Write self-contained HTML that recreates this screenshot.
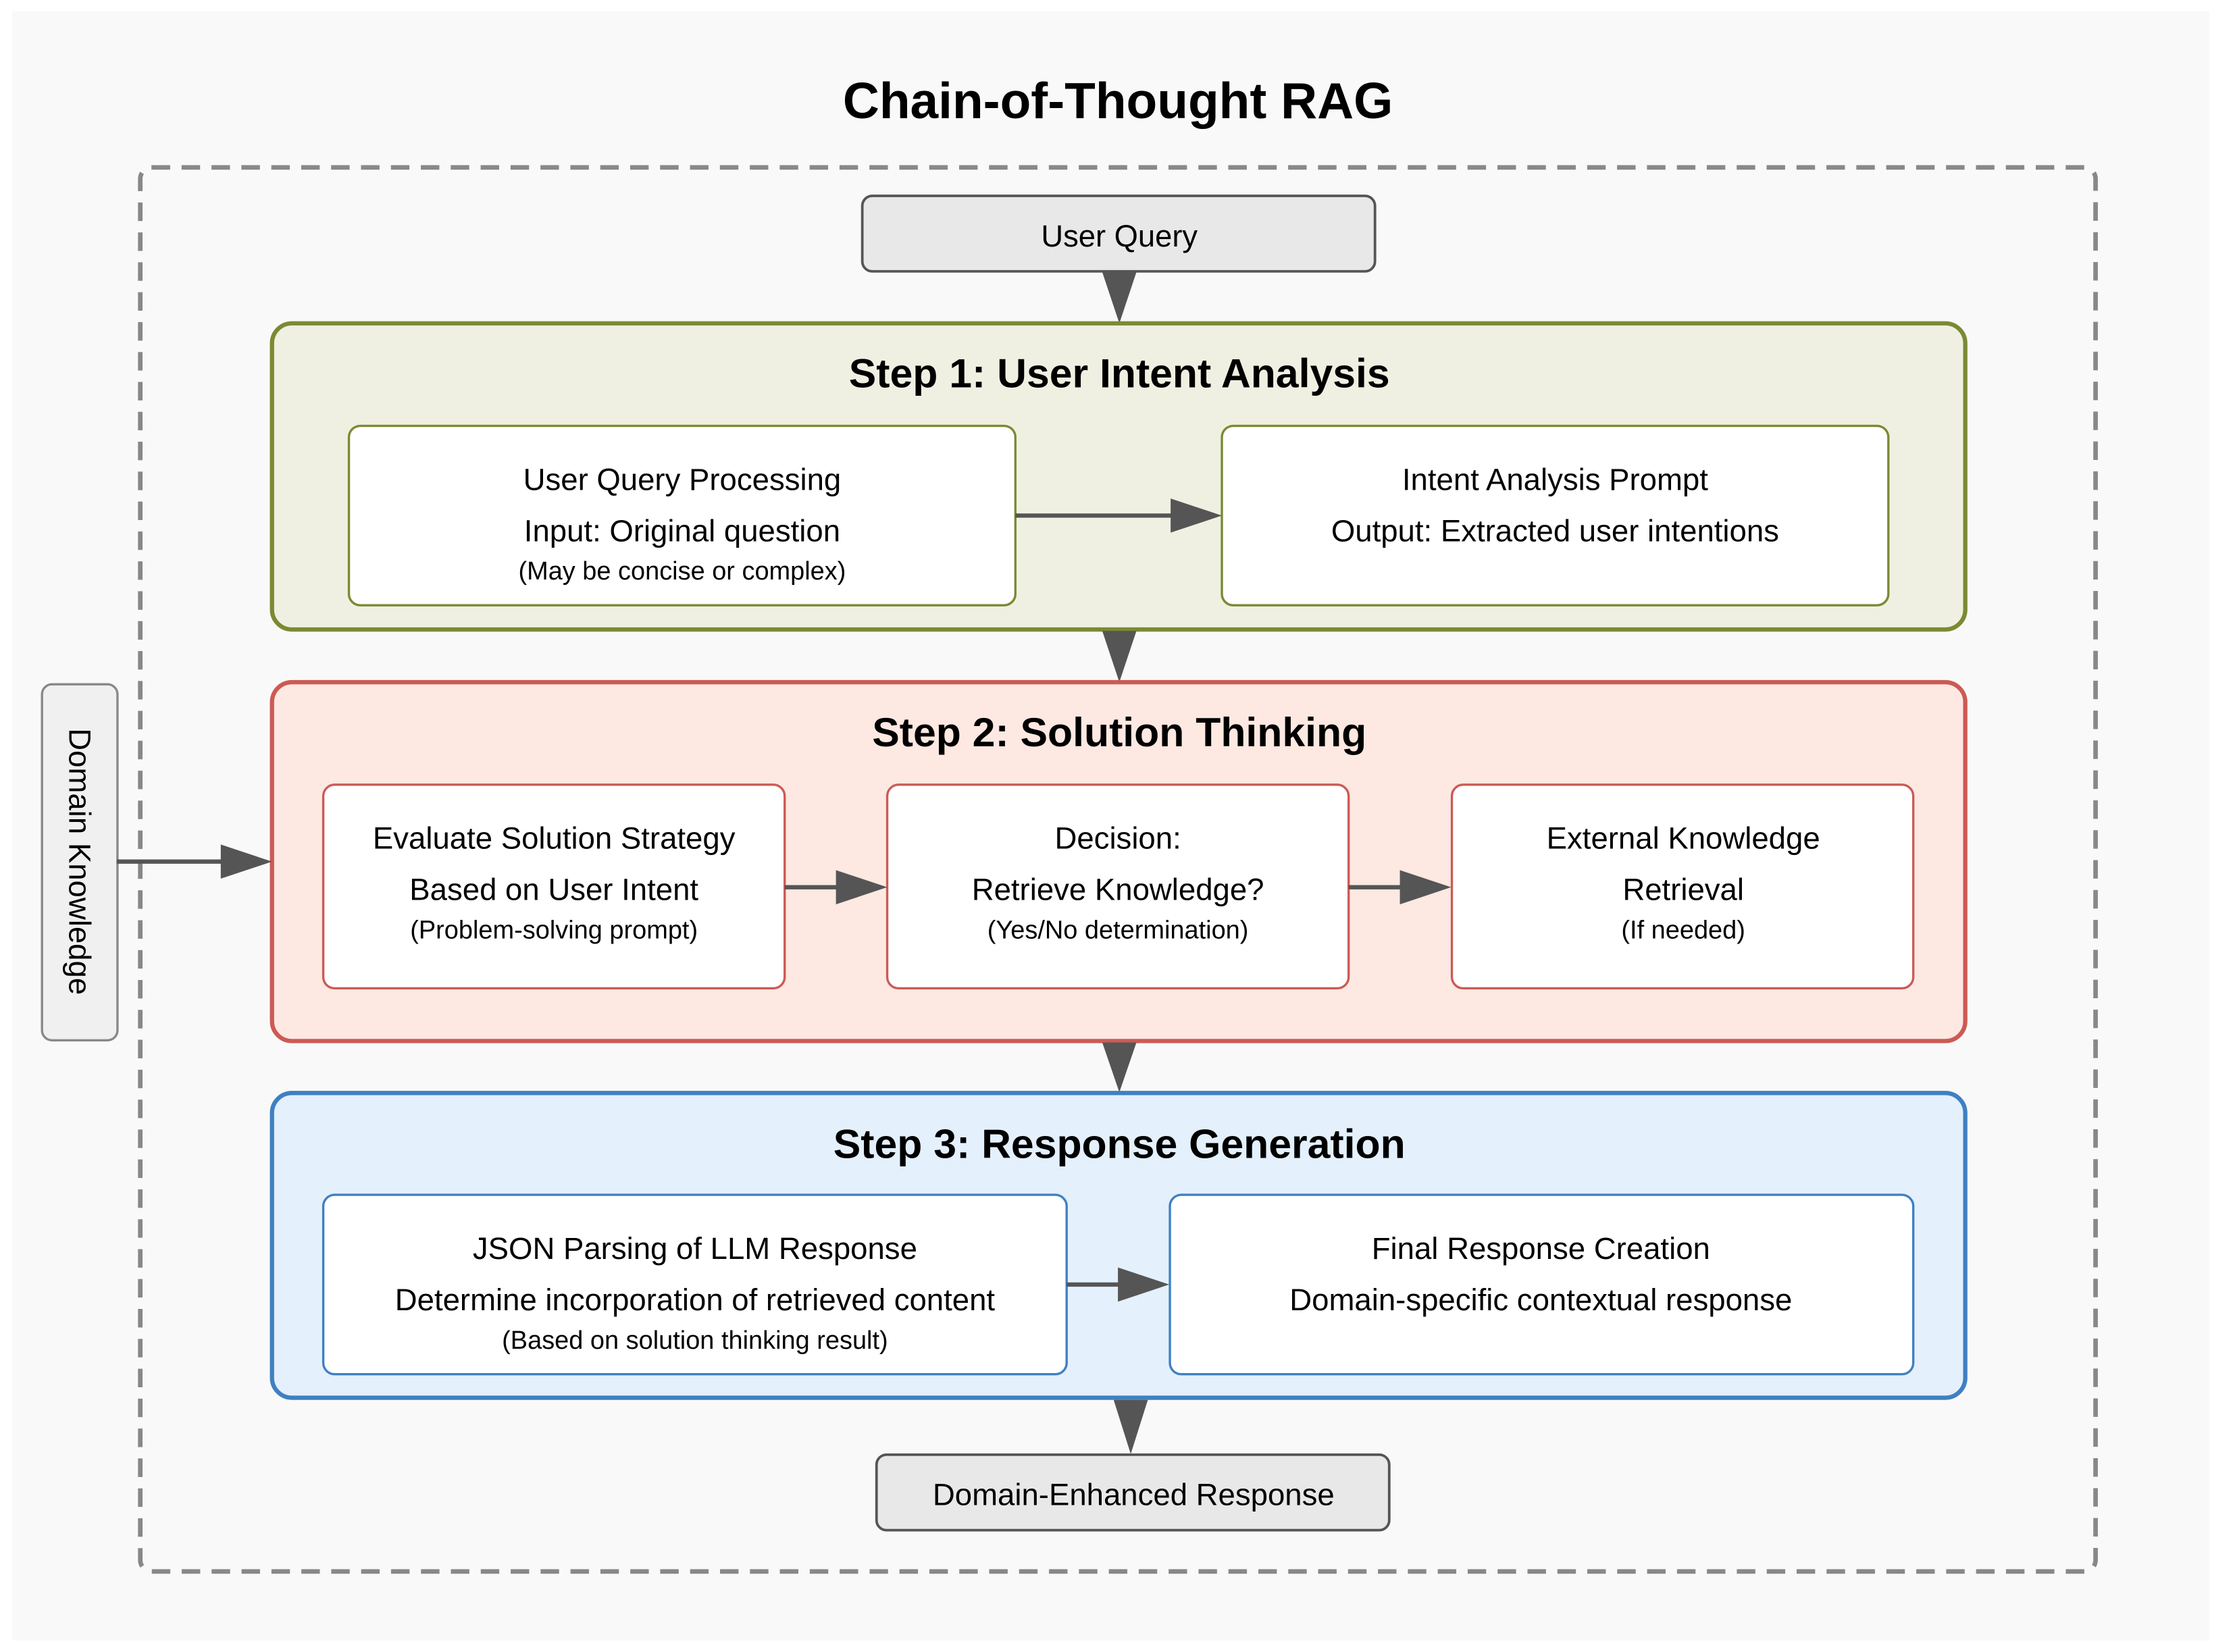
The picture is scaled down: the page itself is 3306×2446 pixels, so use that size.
<!DOCTYPE html>
<html><head><meta charset="utf-8"><style>html,body{margin:0;padding:0;background:#fff}svg{display:block}</style></head>
<body>
<svg width="3306" height="2446" viewBox="0 0 1568 1160" xmlns="http://www.w3.org/2000/svg" font-family="Liberation Sans, Arial, sans-serif">
<rect x="0" y="0" width="1568" height="1160" fill="#ffffff"/>
<rect x="8.5" y="8" width="1543" height="1144" fill="#f9f9f9"/>
<rect x="98.5" y="117.5" width="1373" height="986" rx="8" fill="none" stroke="#888" stroke-width="3.2" stroke-dasharray="13,8"/>
<text x="785" y="83" text-anchor="middle" font-size="35.5" font-weight="bold" fill="#000">Chain-of-Thought RAG</text>

<rect x="605.5" y="137.5" width="360" height="53" rx="7" fill="#e8e8e8" stroke="#555" stroke-width="1.8"/>
<text x="786" y="173" text-anchor="middle" font-size="21.5" fill="#000">User Query</text>
<polygon points="774,191 798,191 786,227" fill="#555"/>

<rect x="191" y="227" width="1189" height="215" rx="14" fill="#f0f0e2" stroke="#7b8a33" stroke-width="3"/>
<text x="786" y="272" text-anchor="middle" font-size="28.8" font-weight="bold" fill="#000">Step 1: User Intent Analysis</text>
<rect x="245" y="299" width="468" height="126" rx="8" fill="#fff" stroke="#7b8a33" stroke-width="1.6"/>
<text x="479" y="344" text-anchor="middle" font-size="21.6">User Query Processing</text>
<text x="479" y="380" text-anchor="middle" font-size="21.6">Input: Original question</text>
<text x="479" y="407" text-anchor="middle" font-size="18">(May be concise or complex)</text>
<rect x="858" y="299" width="468" height="126" rx="8" fill="#fff" stroke="#7b8a33" stroke-width="1.6"/>
<text x="1092" y="344" text-anchor="middle" font-size="21.6">Intent Analysis Prompt</text>
<text x="1092" y="380" text-anchor="middle" font-size="21.6">Output: Extracted user intentions</text>
<line x1="713" y1="362" x2="824" y2="362" stroke="#555" stroke-width="3"/>
<polygon points="822,350 858,362 822,374" fill="#555"/>
<polygon points="774,443 798,443 786,479" fill="#555"/>

<rect x="191" y="479" width="1189" height="252" rx="14" fill="#fde8e2" stroke="#cc5a55" stroke-width="3"/>
<text x="786" y="524" text-anchor="middle" font-size="28.8" font-weight="bold">Step 2: Solution Thinking</text>
<rect x="227" y="551" width="324" height="143" rx="8" fill="#fff" stroke="#cc5a55" stroke-width="1.6"/>
<text x="389" y="596" text-anchor="middle" font-size="21.6">Evaluate Solution Strategy</text>
<text x="389" y="632" text-anchor="middle" font-size="21.6">Based on User Intent</text>
<text x="389" y="659" text-anchor="middle" font-size="18">(Problem-solving prompt)</text>
<rect x="623" y="551" width="324" height="143" rx="8" fill="#fff" stroke="#cc5a55" stroke-width="1.6"/>
<text x="785" y="596" text-anchor="middle" font-size="21.6">Decision:</text>
<text x="785" y="632" text-anchor="middle" font-size="21.6">Retrieve Knowledge?</text>
<text x="785" y="659" text-anchor="middle" font-size="18">(Yes/No determination)</text>
<rect x="1019.5" y="551" width="324" height="143" rx="8" fill="#fff" stroke="#cc5a55" stroke-width="1.6"/>
<text x="1182" y="596" text-anchor="middle" font-size="21.6">External Knowledge</text>
<text x="1182" y="632" text-anchor="middle" font-size="21.6">Retrieval</text>
<text x="1182" y="659" text-anchor="middle" font-size="18">(If needed)</text>
<line x1="551" y1="623" x2="590" y2="623" stroke="#555" stroke-width="3"/>
<polygon points="587,611 623,623 587,635" fill="#555"/>
<line x1="947" y1="623" x2="986" y2="623" stroke="#555" stroke-width="3"/>
<polygon points="983,611 1019,623 983,635" fill="#555"/>

<rect x="29.5" y="480.5" width="53" height="250" rx="7" fill="#f0f0f0" stroke="#888" stroke-width="1.6"/>
<text x="0" y="0" transform="translate(56,605) rotate(90)" text-anchor="middle" dominant-baseline="central" font-size="21.6">Domain Knowledge</text>
<line x1="82" y1="605" x2="158" y2="605" stroke="#555" stroke-width="3"/>
<polygon points="155,593 191,605 155,617" fill="#555"/>
<polygon points="774,732 798,732 786,767" fill="#555"/>

<rect x="191" y="767.5" width="1189" height="214" rx="14" fill="#e4f0fc" stroke="#3f80c2" stroke-width="3"/>
<text x="786" y="813" text-anchor="middle" font-size="28.8" font-weight="bold">Step 3: Response Generation</text>
<rect x="227" y="839" width="522" height="126" rx="8" fill="#fff" stroke="#3f80c2" stroke-width="1.6"/>
<text x="488" y="884" text-anchor="middle" font-size="21.6">JSON Parsing of LLM Response</text>
<text x="488" y="920" text-anchor="middle" font-size="21.6">Determine incorporation of retrieved content</text>
<text x="488" y="947" text-anchor="middle" font-size="18">(Based on solution thinking result)</text>
<rect x="821.5" y="839" width="522" height="126" rx="8" fill="#fff" stroke="#3f80c2" stroke-width="1.6"/>
<text x="1082" y="884" text-anchor="middle" font-size="21.6">Final Response Creation</text>
<text x="1082" y="920" text-anchor="middle" font-size="21.6">Domain-specific contextual response</text>
<line x1="749" y1="902" x2="788" y2="902" stroke="#555" stroke-width="3"/>
<polygon points="785,890 821,902 785,914" fill="#555"/>
<polygon points="782,983 806,983 794,1021" fill="#555"/>

<rect x="615.5" y="1021.5" width="360" height="53" rx="7" fill="#e8e8e8" stroke="#555" stroke-width="1.8"/>
<text x="796" y="1057" text-anchor="middle" font-size="21.6">Domain-Enhanced Response</text>
</svg>
</body></html>
